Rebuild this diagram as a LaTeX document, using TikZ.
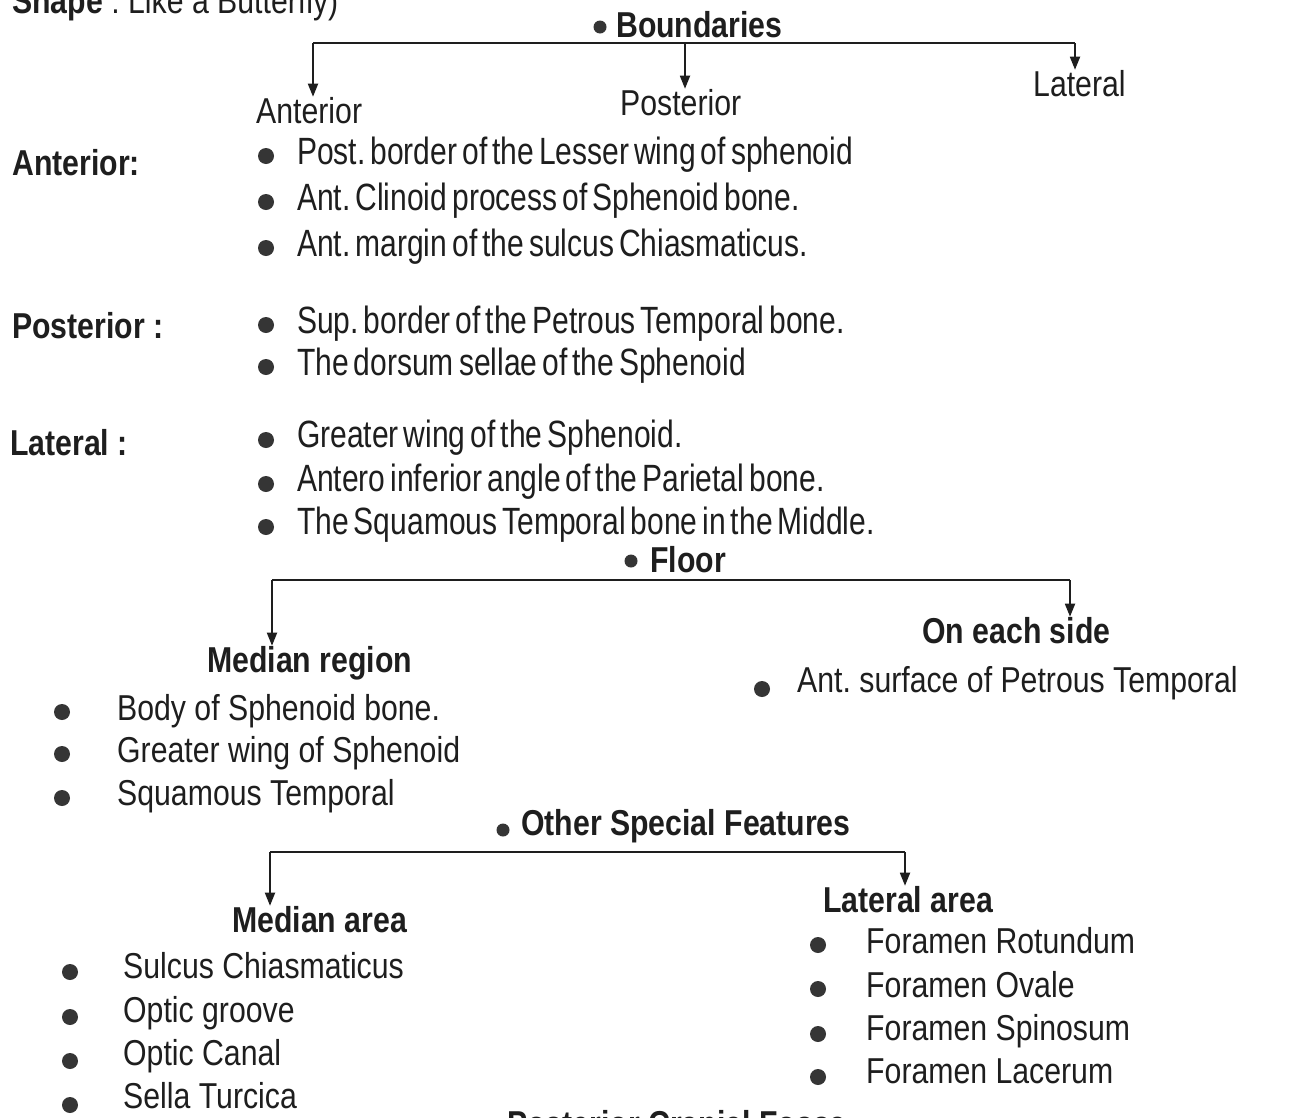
\documentclass[tikz,border=0pt]{standalone}
\usepackage{fontspec}
\setmainfont{Liberation Sans}
\newfontfamily\nf{Liberation Sans}[FakeStretch=0.84]
\newfontfamily\cf{Liberation Sans}[FakeStretch=0.79,WordSpace=0.6]
\usetikzlibrary{arrows.meta}
\definecolor{ink}{HTML}{1E1E1E}
\definecolor{bul}{HTML}{353535}
\frenchspacing
\tikzset{
  txt/.style={anchor=base west, inner sep=0pt, text=ink, font=\nf\fontsize{36}{40}\selectfont},
  cond/.style={txt, font=\cf\fontsize{38}{42}\selectfont},
  head/.style={txt, font=\nf\bfseries\fontsize{36}{40}\selectfont},
  conn/.style={draw=ink, line width=1.8pt},
  arr/.style={conn, -{Triangle[length=13pt,width=10pt]}},
  dot/.style={fill=bul},
}
\begin{document}
\begin{tikzpicture}[x=1pt,y=-1pt]
\useasboundingbox (0,0) rectangle (1292,1117);
\fill[white] (0,0) rectangle (1292,1117);
\clip (0,0) rectangle (1292,1117);

% top cut-off line
\node[head] (shape) at (12,13) {Shape\mdseries\ : Like a Butterfly)};

% ---------- Boundaries ----------
\fill[dot] (600,27) circle (6.5);
\node[head] (bound) at (616,37) {Boundaries};
\node[txt] (antH) at (256,123) {Anterior};
\node[txt] (posH) at (620,115) {Posterior};
\node[txt] (latH) at (1033,96) {Lateral};
\coordinate (b1) at (313,43);
\coordinate (b2) at (685,43);
\coordinate (b3) at (1075,43);
\draw[conn] (b1) -- (b3);
\draw[arr] (b1) -- (b1 |- antH.north);
\draw[arr] (b2) -- (b2 |- posH.north);
\draw[arr] (b3) -- (b3 |- latH.north);

\node[head] (antL) at (12,175) {Anterior:};
\fill[dot] (266,156) circle (8);
\fill[dot] (266,202) circle (8);
\fill[dot] (266,248) circle (8);
\node[cond] (a1) at (297,164) {Post. border of the Lesser wing of sphenoid};
\node[cond] (a2) at (297,210) {Ant. Clinoid process of Sphenoid bone.};
\node[cond] (a3) at (297,256) {Ant. margin of the sulcus Chiasmaticus.};

\node[head] (posL) at (12,338) {Posterior :};
\fill[dot] (266,325) circle (8);
\fill[dot] (266,367) circle (8);
\node[cond] (p1) at (297,333) {Sup. border of the Petrous Temporal bone.};
\node[cond] (p2) at (297,375) {The dorsum sellae of the Sphenoid};

\node[head] (latL) at (10,455) {Lateral :};
\fill[dot] (266,440) circle (8);
\fill[dot] (266,484) circle (8);
\fill[dot] (266,527) circle (8);
\node[cond] (l1) at (297,447) {Greater wing of the Sphenoid.};
\node[cond] (l2) at (297,491) {Antero inferior angle of the Parietal bone.};
\node[cond] (l3) at (297,534) {The Squamous Temporal bone in the Middle.};

% ---------- Floor ----------
\fill[dot] (631,561) circle (6.5);
\node[head] (floor) at (650,572) {Floor};
\coordinate (f1) at (272,580);
\coordinate (f2) at (1070,580);
\draw[conn] (f1) -- (f2);
\node[head] (medR) at (207,672) {Median region};
\node[head] (side) at (922,643) {On each side};
\draw[arr] (f1) -- (f1 |- medR.north);
\draw[arr] (f2) -- (f2 |- side.north);

\fill[dot] (762,689) circle (8);
\node[txt] (s1) at (797,692) {Ant. surface of Petrous Temporal};
\fill[dot] (62,712) circle (8);
\fill[dot] (62,754) circle (8);
\fill[dot] (62,798) circle (8);
\node[txt] (m1) at (117,720) {Body of Sphenoid bone.};
\node[txt] (m2) at (117,762) {Greater wing of Sphenoid};
\node[txt] (m3) at (117,805) {Squamous Temporal};

% ---------- Other Special Features ----------
\fill[dot] (503,830) circle (6.5);
\node[head] (other) at (521,835) {Other Special Features};
\coordinate (o1) at (270,852);
\coordinate (o2) at (905,852);
\draw[conn] (o1) -- (o2);
\node[head] (medA) at (232,932) {Median area};
\node[head] (latA) at (823,912) {Lateral area};
\draw[arr] (o1) -- (o1 |- medA.north);
\draw[arr] (o2) -- (o2 |- latA.north);

\fill[dot] (70,972) circle (8);
\fill[dot] (70,1017) circle (8);
\fill[dot] (70,1061) circle (8);
\fill[dot] (70,1105) circle (8);
\node[txt] (n1) at (123,978) {Sulcus Chiasmaticus};
\node[txt] (n2) at (123,1022) {Optic groove};
\node[txt] (n3) at (123,1065) {Optic Canal};
\node[txt] (n4) at (123,1108) {Sella Turcica};

\fill[dot] (818,945) circle (8);
\fill[dot] (818,989) circle (8);
\fill[dot] (818,1034) circle (8);
\fill[dot] (818,1077) circle (8);
\node[txt] (r1) at (866,953) {Foramen Rotundum};
\node[txt] (r2) at (866,997) {Foramen Ovale};
\node[txt] (r3) at (866,1040) {Foramen Spinosum};
\node[txt] (r4) at (866,1083) {Foramen Lacerum};

% bottom cut-off heading
\fill[dot] (487,1125) circle (6.5);
\node[head] (post) at (507,1136) {Posterior Cranial Fossa};
\end{tikzpicture}
\end{document}
